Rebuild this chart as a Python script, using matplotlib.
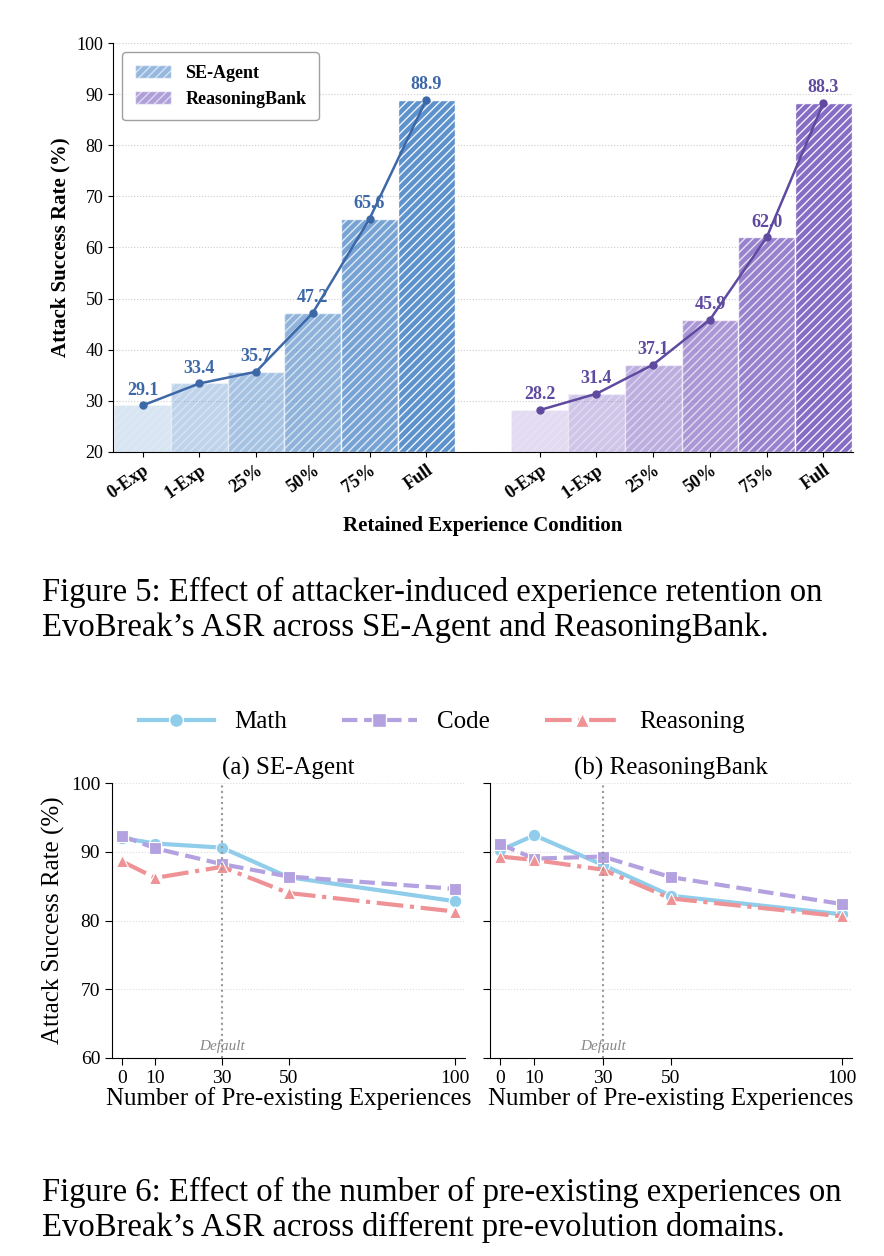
import numpy as np
import matplotlib.pyplot as plt
import matplotlib
from matplotlib.lines import Line2D
from matplotlib.patches import Patch

matplotlib.rcParams['font.family'] = 'Liberation Serif'
matplotlib.rcParams['hatch.linewidth'] = 1.0

# ---- data ----
conditions = ['0-Exp', '1-Exp', '25%', '50%', '75%', 'Full']
se_agent = [29.1, 33.4, 35.7, 47.2, 65.6, 88.9]
reasoning_bank = [28.2, 31.4, 37.1, 45.9, 62.0, 88.3]

n_exp = [0, 10, 30, 50, 100]
se_math = [92.0, 91.2, 90.6, 86.3, 82.8]
se_code = [92.3, 90.5, 88.2, 86.4, 84.6]
se_reas = [88.6, 86.2, 87.8, 84.0, 81.3]
rb_math = [90.2, 92.4, 88.1, 83.6, 80.9]
rb_code = [91.1, 89.0, 89.3, 86.3, 82.4]
rb_reas = [89.3, 88.8, 87.4, 83.2, 80.6]

fig = plt.figure(figsize=(8.84, 12.56), dpi=100, facecolor='white')
W, H = 884, 1256

def ax_rect(l, t, r, b):
    return [l / W, 1 - b / H, (r - l) / W, (b - t) / H]

# ---- Figure 5 ----
ax = fig.add_axes(ax_rect(113, 43, 853, 452))
blue = '#5089c8'
purple = '#7b5fc0'
blue_line = '#3d68a8'
purple_line = '#5f4aa0'
pos_se = np.arange(6)
pos_rb = np.arange(6) + 7
alphas = np.linspace(0.22, 0.92, 6)
for i in range(6):
    ax.bar(pos_se[i], se_agent[i] - 20, bottom=20, width=1.0, color=blue, alpha=alphas[i],
           hatch='////', edgecolor='white', linewidth=1.0)
    ax.bar(pos_rb[i], reasoning_bank[i] - 20, bottom=20, width=1.0, color=purple, alpha=alphas[i],
           hatch='////', edgecolor='white', linewidth=1.0)
ax.plot(pos_se, se_agent, '-o', color=blue_line, lw=1.8, ms=5)
ax.plot(pos_rb, reasoning_bank, '-o', color=purple_line, lw=1.8, ms=5)
for x, v in zip(pos_se, se_agent):
    ax.text(x, v + 1.3, f'{v:.1f}', ha='center', va='bottom', color=blue_line,
            fontweight='bold', fontsize=13)
for x, v in zip(pos_rb, reasoning_bank):
    ax.text(x, v + 1.3, f'{v:.1f}', ha='center', va='bottom', color=purple_line,
            fontweight='bold', fontsize=13)
ax.set_xlim(-0.52, 12.52)
ax.set_ylim(20, 100)
ax.set_yticks(range(20, 101, 10))
ax.set_xticks(list(pos_se) + list(pos_rb))
ax.set_xticklabels(conditions * 2, rotation=35, ha='right', rotation_mode='anchor',
                   fontweight='bold', fontsize=13)
ax.tick_params(axis='y', labelsize=13)
ax.yaxis.grid(True, linestyle=':', color='#cccccc', lw=0.8)
ax.set_axisbelow(True)
for s in ['top', 'right']:
    ax.spines[s].set_visible(False)
ax.set_ylabel('Attack Success Rate (%)', fontweight='bold', fontsize=15)
ax.set_xlabel('Retained Experience Condition', fontweight='bold', fontsize=15, labelpad=10)
handles = [Patch(facecolor=blue, alpha=0.6, hatch='////', edgecolor='white', label='SE-Agent'),
           Patch(facecolor=purple, alpha=0.6, hatch='////', edgecolor='white', label='ReasoningBank')]
ax.legend(handles=handles, loc='upper left', prop={'weight': 'bold', 'size': 13},
          fancybox=True, edgecolor='#888888', borderpad=0.7)

fig.text(42 / W, 1 - 610 / H,
         "Figure 5: Effect of attacker-induced experience retention on\nEvoBreak\u2019s ASR across SE-Agent and ReasoningBank.",
         fontsize=23.5, va='center', ha='left', linespacing=1.2)

# ---- Figure 6 ----
c_math = '#90cdea'
c_code = '#b4a2e0'
c_reas = '#ee9296'
axes = [fig.add_axes(ax_rect(112, 783, 465, 1058)),
        fig.add_axes(ax_rect(490, 783, 852, 1058))]
panels = [('(a) SE-Agent', se_math, se_code, se_reas),
          ('(b) ReasoningBank', rb_math, rb_code, rb_reas)]
for k, (a, (title, m, c, r)) in enumerate(zip(axes, panels)):
    a.plot(n_exp, m, '-', marker='o', color=c_math, lw=3, ms=9, mec='white', mew=0.8)
    a.plot(n_exp, c, '--', marker='s', color=c_code, lw=3, ms=9, mec='white', mew=0.8)
    a.plot(n_exp, r, '-.', marker='^', color=c_reas, lw=3, ms=9, mec='white', mew=0.8)
    a.axvline(30, color='#999999', ls=':', lw=1.5)
    a.text(30, 61.2, 'Default', style='italic', color='#888888', ha='center', fontsize=11)
    a.set_xlim(-3, 103)
    a.set_ylim(60, 100)
    a.set_xticks(n_exp)
    a.set_yticks(range(60, 101, 10))
    a.yaxis.grid(True, linestyle=':', color='#dddddd', lw=0.8)
    a.tick_params(labelsize=14, length=5)
    for s in ['top', 'right']:
        a.spines[s].set_visible(False)
    a.set_title(title, fontsize=18, pad=6)
    a.set_xlabel('Number of Pre-existing Experiences', fontsize=18, labelpad=0)
    if k == 0:
        a.set_ylabel('Attack Success Rate (%)', fontsize=18)
    else:
        a.set_yticklabels([])

leg = [Line2D([], [], color=c_math, ls='-', marker='o', lw=3, ms=10, mec='white', label='Math'),
       Line2D([], [], color=c_code, ls='--', marker='s', lw=3, ms=10, mec='white', label='Code'),
       Line2D([], [], color=c_reas, ls='-.', marker='^', lw=3, ms=10, mec='white', label='Reasoning')]
fig.legend(handles=leg, loc='center', bbox_to_anchor=(0.5, 1 - 722 / H), ncol=3,
           frameon=False, fontsize=18, handlelength=3, columnspacing=2.2)

fig.text(42 / W, 1 - 1210 / H,
         "Figure 6: Effect of the number of pre-existing experiences on\nEvoBreak\u2019s ASR across different pre-evolution domains.",
         fontsize=23.5, va='center', ha='left', linespacing=1.2)

fig.savefig('out.png', dpi=100, facecolor='white')
